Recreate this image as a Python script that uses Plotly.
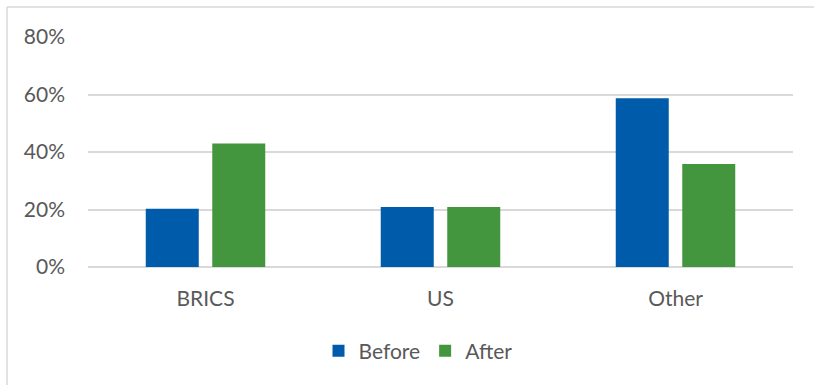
import plotly.graph_objects as go

categories = ["BRICS", "US", "Other"]
before = [0.203, 0.209, 0.587]
after = [0.430, 0.209, 0.358]
series_names = ["Before", "After"]
tick_vals = [0, 0.2, 0.4, 0.6, 0.8]
tick_text = ["0%", "20%", "40%", "60%", "80%"]

W, H = 814, 385
L, R, T, B = 88, 21, 37, 118
pw, ph = W - L - R, H - T - B

font = dict(family="Lato, sans-serif", size=21, color="#595959")

fig = go.Figure()
fig.add_trace(go.Bar(x=categories, y=before, name=series_names[0],
                     marker=dict(color="#005BAA", line=dict(width=0))))
fig.add_trace(go.Bar(x=categories, y=after, name=series_names[1],
                     marker=dict(color="#43963E", line=dict(width=0))))

bx = (7 - L) / pw
by = 1 + (T - 7) / ph
fig.add_shape(type="line", xref="paper", yref="paper", x0=bx, x1=bx, y0=-2, y1=by,
              line=dict(color="#d9d9d9", width=1.5))
fig.add_shape(type="line", xref="paper", yref="paper", x0=bx, x1=2, y0=by, y1=by,
              line=dict(color="#d9d9d9", width=1.5))

fig.update_layout(
    width=W, height=H,
    margin=dict(l=L, r=R, t=T, b=B, pad=0),
    paper_bgcolor="white", plot_bgcolor="white",
    barmode="group", bargap=0.434, bargroupgap=0.203,
    font=font,
    showlegend=True,
    legend=dict(orientation="h", x=(418 - L) / pw, xanchor="center",
                y=(T + ph - 351) / ph, yanchor="middle",
                font=font, itemwidth=30, traceorder="normal"),
    xaxis=dict(showgrid=False, showline=False, ticks="", tickfont=font,
               ticklabelstandoff=17),
    yaxis=dict(range=[0, 0.8], tickvals=tick_vals, ticktext=tick_text,
               showgrid=True, gridcolor="#d9d9d9", gridwidth=1.5,
               zeroline=True, zerolinecolor="#d9d9d9", zerolinewidth=1.5,
               showline=False, ticks="", tickfont=font, ticklabelstandoff=22),
)

fig.write_html("out.html")
